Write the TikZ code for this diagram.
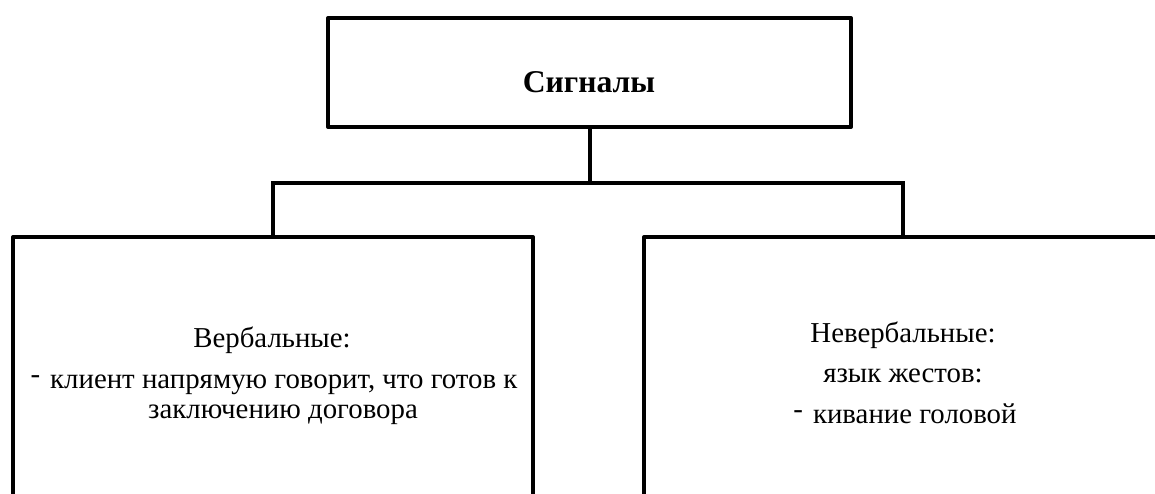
\documentclass[tikz,border=0pt]{standalone}
\usepackage{fontspec}
\setmainfont{Liberation Serif}
\tikzset{
  block/.style={draw, line width=2.4pt, line join=round, inner sep=0pt},
  txt/.style={anchor=base, inner sep=0pt, font=\fontsize{17.3}{20}\selectfont},
  link/.style={line width=2.4pt}
}
\newcommand{\dsh}{\raisebox{.35ex}{-}\hspace{6pt}}

\begin{document}
\begin{tikzpicture}[x=0.6pt, y=-0.6pt]
\clip (0,0) rectangle (1155,493);
% boxes
\node[block, minimum width=313.8pt, minimum height=65.4pt] (signals) at (589.5,72.5) {};
\node[block, minimum width=312pt, minimum height=240pt] (verbal) at (273,437) {};
\node[block, minimum width=310.8pt, minimum height=240pt] (nonverbal) at (903,437) {};
% texts
\node[txt, font=\bfseries\fontsize{19}{22}\selectfont] (title) at (589,92) {Сигналы};
\node[txt] (verbhead) at (272,347) {Вербальные:};
\node[txt] (verbline1) at (274,388) {\dsh{}клиент напрямую говорит, что готов к};
\node[txt] (verbline2) at (283,418) {заключению договора};
\node[txt] (nonhead) at (903,342) {Невербальные:};
\node[txt] (nonline1) at (903,382) {язык жестов:};
\node[txt] (nonline2) at (905,423) {\dsh{}кивание головой};
% connectors
\coordinate (split) at (589.5,183);
\draw[link] (signals.south) -- (split);
\draw[link] (verbal.north) |- (split) -| (nonverbal.north);
\end{tikzpicture}
\end{document}
